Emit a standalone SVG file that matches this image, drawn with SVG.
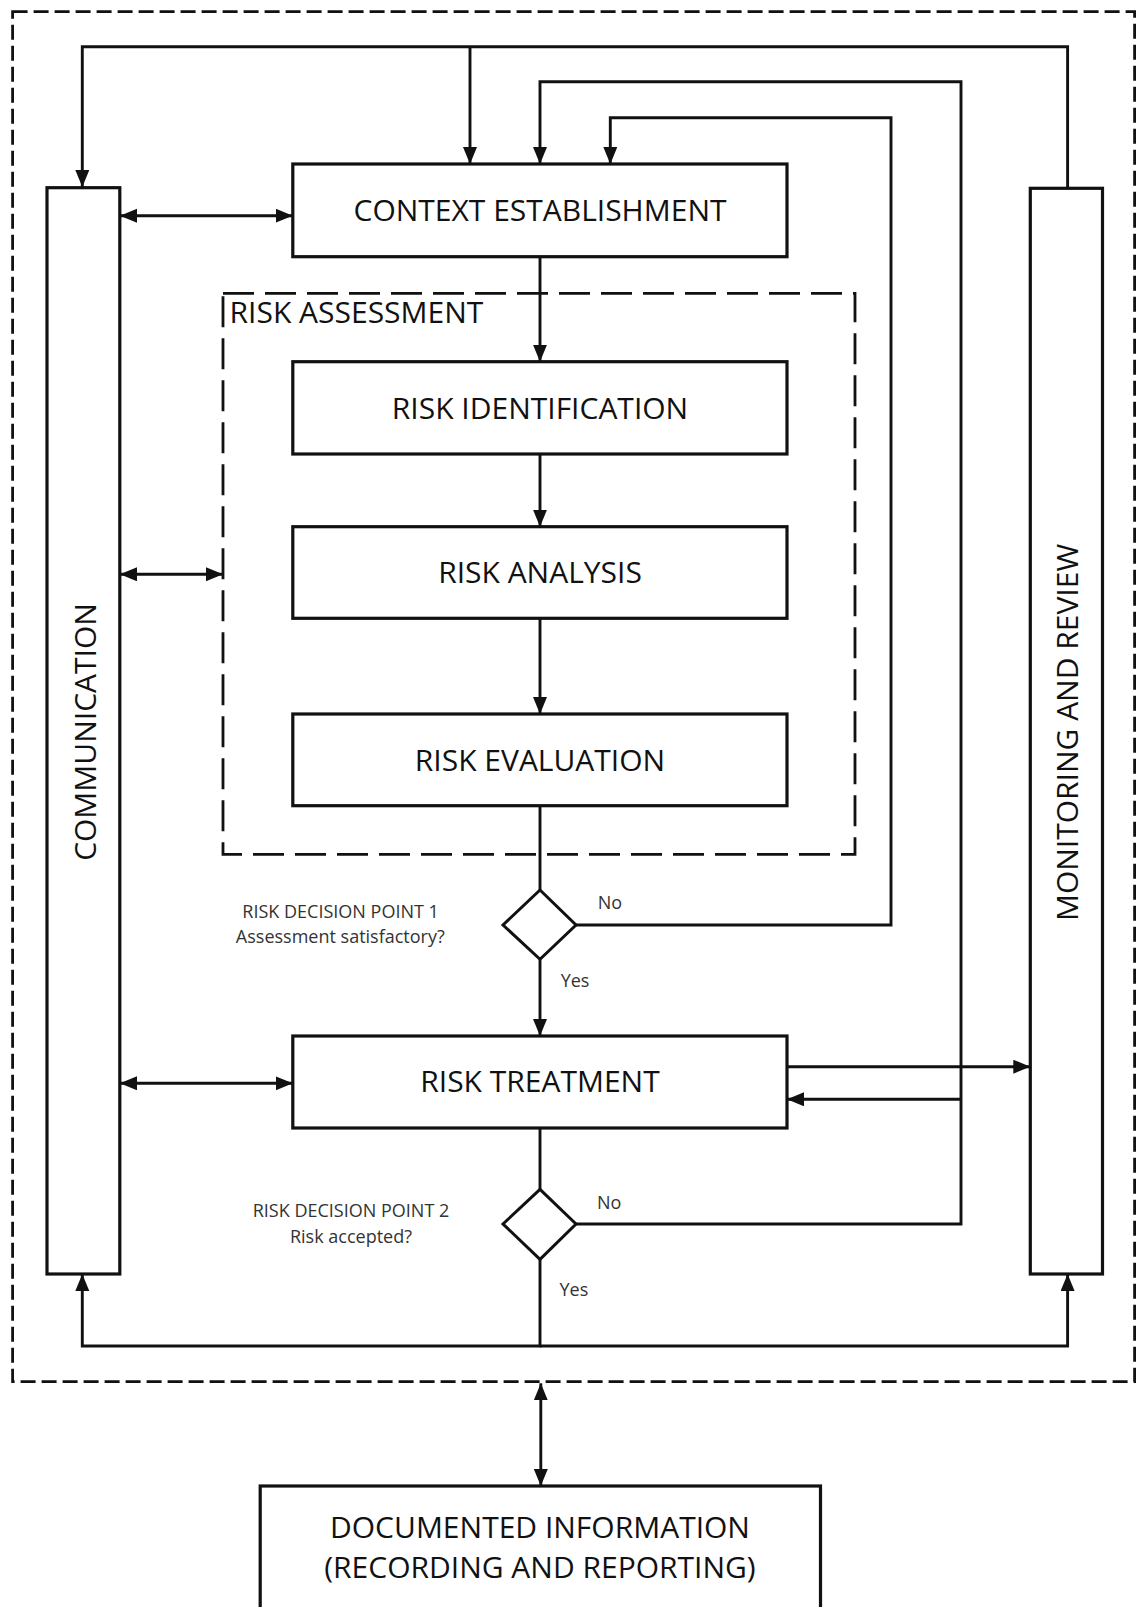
<svg xmlns="http://www.w3.org/2000/svg" width="1136" height="1607" viewBox="0 0 1136 1607">
<style>
.box{fill:#fff;stroke:#111;stroke-width:3.2}
.dia{fill:#fff;stroke:#111;stroke-width:3}
.big{font-family:"Open Sans","Noto Sans",sans-serif;font-size:30px;fill:#111}
.mid{text-anchor:middle}
.small{font-family:"Open Sans","Noto Sans",sans-serif;font-size:18px;fill:#333}
.con{fill:none;stroke:#111;stroke-width:2.9}
.outer{fill:none;stroke:#111;stroke-width:2.8;stroke-dasharray:15 6}
.ra{fill:none;stroke:#111;stroke-width:2.8;stroke-dasharray:31 11}
</style>
<defs>
<marker id="ah" markerUnits="userSpaceOnUse" markerWidth="18" markerHeight="15" refX="17" refY="7" orient="auto-start-reverse">
<path d="M0,0 L17,7 L0,14 z" fill="#111"/>
</marker>
</defs>
<rect fill="#fff" x="0" y="0" width="1136" height="1607"/>

<g id="outer-boundary">
<rect class="outer" x="12.6" y="11.7" width="1122" height="1370"/>
</g>

<g id="risk-assessment">
<rect class="ra" x="223" y="293.3" width="632" height="561"/>
<text class="big" x="229.6" y="323">RISK ASSESSMENT</text>
</g>

<g id="communication">
<rect class="box" x="47" y="187.7" width="72.8" height="1086.3"/>
<text class="big mid" transform="translate(95.5,732) rotate(-90)" x="0" y="0">COMMUNICATION</text>
</g>

<g id="monitoring">
<rect class="box" x="1030.3" y="188.3" width="72.2" height="1085.7"/>
<text class="big mid" transform="translate(1078,732.5) rotate(-90)" x="0" y="0">MONITORING AND REVIEW</text>
</g>

<g id="context">
<rect class="box" x="292.8" y="164" width="494.2" height="92.7"/>
<text class="big mid" x="540" y="221">CONTEXT ESTABLISHMENT</text>
</g>

<g id="identification">
<rect class="box" x="292.8" y="361.7" width="494.2" height="92.3"/>
<text class="big mid" x="540" y="418.8">RISK IDENTIFICATION</text>
</g>

<g id="analysis">
<rect class="box" x="292.8" y="526.7" width="494.2" height="91.6"/>
<text class="big mid" x="540" y="582.8">RISK ANALYSIS</text>
</g>

<g id="evaluation">
<rect class="box" x="292.8" y="714" width="494.2" height="91.7"/>
<text class="big mid" x="540" y="770.7">RISK EVALUATION</text>
</g>

<g id="decision1">
<polygon class="dia" points="540,890 576,925 540,959.3 503,925"/>
<text class="small mid" x="340.6" y="917.7">RISK DECISION POINT 1</text>
<text class="small mid" x="340.3" y="943.3">Assessment satisfactory?</text>
</g>

<g id="treatment">
<rect class="box" x="292.8" y="1036" width="494.2" height="92"/>
<text class="big mid" x="540" y="1092.2">RISK TREATMENT</text>
</g>

<g id="decision2">
<polygon class="dia" points="540,1189.3 576,1224 540,1259.3 503,1224"/>
<text class="small mid" x="351" y="1216.7">RISK DECISION POINT 2</text>
<text class="small mid" x="351" y="1242.7">Risk accepted?</text>
</g>

<g id="documented">
<rect class="box" x="260.2" y="1486" width="560.3" height="140"/>
<text class="big mid" x="540" y="1538.3">DOCUMENTED INFORMATION</text>
<text class="big mid" x="540" y="1578.3">(RECORDING AND REPORTING)</text>
</g>

<g id="connectors">
<path class="con" d="M1067.6,189 V46.7 H82.3 V187" marker-end="url(#ah)"/>
<path class="con" d="M470,46.7 V164" marker-end="url(#ah)"/>
<path class="con" d="M576,1224 H961 V81.7 H540 V164" marker-end="url(#ah)"/>
<path class="con" d="M961,1099.3 H787" marker-end="url(#ah)"/>
<path class="con" d="M576,925 H891 V117.7 H610.3 V164" marker-end="url(#ah)"/>
<path class="con" d="M540,256.7 V361.7" marker-end="url(#ah)"/>
<path class="con" d="M540,454 V526.7" marker-end="url(#ah)"/>
<path class="con" d="M540,618.3 V714" marker-end="url(#ah)"/>
<path class="con" d="M540,805.7 V890"/>
<path class="con" d="M540,959.3 V1036" marker-end="url(#ah)"/>
<path class="con" d="M540,1128 V1189.3"/>
<path class="con" d="M540,1259.3 V1346 H82.3 V1274" marker-end="url(#ah)"/>
<path class="con" d="M540,1346 H1067.6 V1274" marker-end="url(#ah)"/>
<path class="con" d="M120,215.7 H292.8" marker-start="url(#ah)" marker-end="url(#ah)"/>
<path class="con" d="M120,574.3 H223" marker-start="url(#ah)" marker-end="url(#ah)"/>
<path class="con" d="M120,1083.3 H292.8" marker-start="url(#ah)" marker-end="url(#ah)"/>
<path class="con" d="M787,1066.7 H1030.3" marker-end="url(#ah)"/>
<path class="con" d="M540.8,1383.3 V1486" marker-start="url(#ah)" marker-end="url(#ah)"/>
<text class="small" x="597.8" y="909.3">No</text>
<text class="small" x="560.7" y="986.7">Yes</text>
<text class="small" x="597" y="1209.3">No</text>
<text class="small" x="559.5" y="1295.7">Yes</text>
</g>
</svg>
